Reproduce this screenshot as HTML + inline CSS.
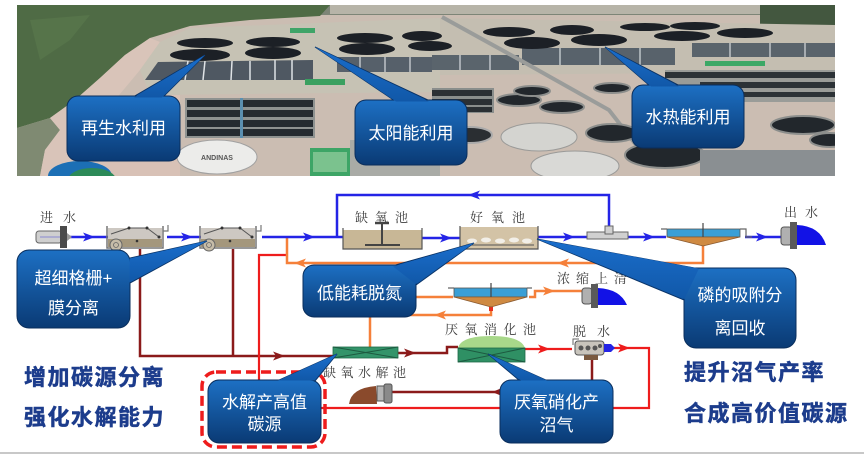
<!DOCTYPE html>
<html><head><meta charset="utf-8">
<style>
html,body{margin:0;padding:0;background:#fff;width:864px;height:455px;overflow:hidden;}
svg{display:block;}
.lbl{font-family:"Noto Serif CJK SC","Liberation Serif",serif;fill:#3c3c3c;font-size:13px;}
.co{font-family:"Liberation Sans","Noto Sans CJK SC",sans-serif;fill:#ffffff;font-size:17px;}
.big{font-family:"Liberation Sans","Noto Sans CJK SC",sans-serif;fill:#1c3c8c;stroke:#1c3c8c;stroke-width:0.5px;font-size:22px;font-weight:700;letter-spacing:1.5px;}
</style></head><body>
<svg width="864" height="455" viewBox="0 0 864 455" xmlns="http://www.w3.org/2000/svg">
<defs>
<linearGradient id="cg" x1="0" y1="0" x2="0" y2="1">
<stop offset="0" stop-color="#1d70c4"/><stop offset="1" stop-color="#0a3a74"/>
</linearGradient>
<linearGradient id="wg" x1="0" y1="0" x2="0" y2="1">
<stop offset="0" stop-color="#1a6ecc"/><stop offset="1" stop-color="#1158a8"/>
</linearGradient>
<clipPath id="pc"><rect x="17" y="5" width="818" height="171"/></clipPath>
</defs>

<!-- ================= PHOTO ================= -->
<g clip-path="url(#pc)">
<rect x="17" y="5" width="818" height="171" fill="#cbbdb2"/>
<rect x="17" y="5" width="818" height="10" fill="#7d8577"/>
<rect x="330" y="5" width="430" height="9" fill="#b7b4a8"/>
<rect x="760" y="5" width="75" height="22" fill="#43573f"/>
<polygon points="17,5 330,5 320,16 250,20 190,26 150,38 125,55 100,78 75,100 50,118 17,128" fill="#4f6b45"/>
<polygon points="30,20 90,15 70,40 40,60" fill="#56744a"/>
<polygon points="17,128 50,118 60,130 45,150 40,176 17,176" fill="#7f8a72"/>
<polygon points="50,118 75,100 100,78 125,55 150,38 160,42 140,70 115,100 95,130 80,176 40,176 45,150 60,130" fill="#d9c4b9"/>
<polygon points="160,42 190,28 440,18 440,92 150,95 140,70" fill="#c6c2b4"/>
<polygon points="440,18 835,25 835,72 440,75" fill="#c4beb1"/>
<polygon points="95,130 115,100 140,95 180,95 180,176 80,176" fill="#d8c1b6"/>
<!-- gridded tanks -->
<polygon points="145,80 158,62 313,60 313,80" fill="#4f5862"/>
<g stroke="#dfe3e6" stroke-width="1.5">
<line x1="188" y1="61" x2="185" y2="80"/><line x1="205" y1="61" x2="203" y2="80"/><line x1="232" y1="61" x2="231" y2="80"/><line x1="250" y1="61" x2="250" y2="80"/><line x1="275" y1="60" x2="275" y2="80"/><line x1="292" y1="60" x2="292" y2="80"/>
</g>
<rect x="337" y="57" width="95" height="15" fill="#56606a"/>
<rect x="432" y="55" width="87" height="15" fill="#5a646c"/>
<rect x="522" y="48" width="153" height="17" fill="#58626b"/>
<rect x="692" y="43" width="143" height="14" fill="#5a646c"/>
<g stroke="#d8dde0" stroke-width="1.2">
<line x1="360" y1="57" x2="360" y2="72"/><line x1="385" y1="57" x2="385" y2="72"/><line x1="410" y1="57" x2="410" y2="72"/>
<line x1="460" y1="55" x2="460" y2="70"/><line x1="490" y1="55" x2="490" y2="70"/>
<line x1="560" y1="48" x2="560" y2="65"/><line x1="600" y1="48" x2="600" y2="65"/><line x1="640" y1="48" x2="640" y2="65"/>
<line x1="730" y1="43" x2="730" y2="57"/><line x1="770" y1="43" x2="770" y2="57"/><line x1="805" y1="43" x2="805" y2="57"/>
</g>
<!-- top ellipses -->
<g fill="#1c2026">
<ellipse cx="205" cy="43" rx="28" ry="5"/>
<ellipse cx="200" cy="55" rx="30" ry="6"/>
<ellipse cx="273" cy="42" rx="27" ry="5"/>
<ellipse cx="273" cy="53" rx="28" ry="6"/>
<ellipse cx="365" cy="38" rx="28" ry="5"/>
<ellipse cx="367" cy="49" rx="28" ry="6"/>
<ellipse cx="422" cy="36" rx="20" ry="5"/>
<ellipse cx="430" cy="46" rx="22" ry="5"/>
<ellipse cx="509" cy="32" rx="26" ry="5"/>
<ellipse cx="532" cy="43" rx="28" ry="6"/>
<ellipse cx="572" cy="30" rx="22" ry="5"/>
<ellipse cx="599" cy="40" rx="28" ry="6"/>
<ellipse cx="645" cy="27" rx="25" ry="4"/>
<ellipse cx="695" cy="26" rx="25" ry="4"/>
<ellipse cx="682" cy="36" rx="28" ry="5"/>
<ellipse cx="745" cy="33" rx="28" ry="5"/>
</g>
<!-- green roofs -->
<rect x="290" y="28" width="25" height="5" fill="#3fa468"/>
<rect x="305" y="79" width="40" height="6" fill="#3aa060"/>
<rect x="705" y="61" width="60" height="5" fill="#3ca866"/>
<!-- road -->
<polyline points="442,17 520,60 609,110 640,150" fill="none" stroke="#9a9c9a" stroke-width="4"/>
<!-- dark tank rows -->
<rect x="185" y="98" width="130" height="40" fill="#8e9290"/>
<rect x="187" y="100" width="126" height="7" fill="#252b30"/>
<rect x="187" y="110" width="126" height="7" fill="#252b30"/>
<rect x="187" y="120" width="126" height="7" fill="#252b30"/>
<rect x="187" y="129" width="126" height="7" fill="#252b30"/>
<rect x="240" y="98" width="3" height="40" fill="#5a8fb0"/>
<rect x="432" y="88" width="62" height="25" fill="#8a8e8c"/>
<rect x="432" y="90" width="60" height="6" fill="#2b3034"/>
<rect x="432" y="99" width="60" height="6" fill="#2b3034"/>
<rect x="432" y="107" width="60" height="5" fill="#2b3034"/>
<rect x="665" y="70" width="170" height="32" fill="#9a9c98"/>
<rect x="665" y="72" width="170" height="6" fill="#2c3236"/>
<rect x="700" y="82" width="135" height="6" fill="#2c3236"/>
<rect x="720" y="92" width="115" height="5" fill="#2c3236"/>
<!-- mid circles -->
<g fill="#22272c" stroke="#8c8e8c" stroke-width="2">
<ellipse cx="519" cy="100" rx="22" ry="6"/>
<ellipse cx="562" cy="107" rx="22" ry="6"/>
<ellipse cx="532" cy="91" rx="18" ry="5"/>
<ellipse cx="612" cy="88" rx="18" ry="5"/>
<ellipse cx="612" cy="133" rx="26" ry="9"/>
<ellipse cx="665" cy="155" rx="40" ry="13"/>
<ellipse cx="803" cy="125" rx="32" ry="9"/>
<ellipse cx="830" cy="140" rx="20" ry="7"/>
</g>
<rect x="350" y="140" width="90" height="36" fill="#a9aba6"/>
<ellipse cx="539" cy="137" rx="38" ry="14" fill="#d4d4d0" stroke="#9a9a98"/>
<ellipse cx="575" cy="166" rx="44" ry="15" fill="#d9d9d6" stroke="#9a9a98"/>
<ellipse cx="470" cy="135" rx="22" ry="8" fill="#2a2e32" stroke="#aaa" stroke-width="2"/>
<rect x="700" y="150" width="135" height="26" fill="#8a8f92"/>
<!-- ANDINAS tank -->
<ellipse cx="80" cy="176" rx="32" ry="15" fill="#1c6fb5"/>
<ellipse cx="92" cy="180" rx="24" ry="12" fill="#2c8a58"/>
<ellipse cx="217" cy="157" rx="40" ry="17" fill="#ececea" stroke="#a0a0a0"/>
<text x="217" y="160" font-family="Liberation Sans,sans-serif" font-size="7" fill="#555" text-anchor="middle" font-weight="bold">ANDINAS</text>
<rect x="310" y="148" width="40" height="28" fill="#3da566"/>
<rect x="313" y="152" width="34" height="20" fill="#7bc28e"/>
</g>

<!-- photo callouts -->
<polygon points="205,55 133,97 163,97" fill="url(#wg)" stroke="#0a3468" stroke-width="1"/>
<rect x="67" y="96" width="113" height="65" rx="11" fill="url(#cg)" stroke="#0a2e5c" stroke-width="1"/>
<polygon points="205,55 134,97.5 162,97.5" fill="url(#wg)"/>
<text class="co" x="123.5" y="134" text-anchor="middle">再生水利用</text>

<polygon points="315,47 395,101 430,101" fill="url(#wg)" stroke="#0a3468" stroke-width="1"/>
<rect x="355" y="100" width="112" height="65" rx="11" fill="url(#cg)" stroke="#0a2e5c" stroke-width="1"/>
<polygon points="315,47 396,101.5 429,101.5" fill="url(#wg)"/>
<text class="co" x="411" y="139" text-anchor="middle">太阳能利用</text>

<polygon points="605,47 650,86 680,86" fill="url(#wg)" stroke="#0a3468" stroke-width="1"/>
<rect x="632" y="85" width="112" height="63" rx="11" fill="url(#cg)" stroke="#0a2e5c" stroke-width="1"/>
<polygon points="605,47 651,86.5 679,86.5" fill="url(#wg)"/>
<text class="co" x="688" y="123" text-anchor="middle">水热能利用</text>

<!-- ================= DIAGRAM ================= -->
<!-- labels -->
<text class="lbl" x="40" y="222" font-size="12" letter-spacing="10">进水</text>
<text class="lbl" x="355" y="222" letter-spacing="7">缺氧池</text>
<text class="lbl" x="470" y="222" letter-spacing="8">好氧池</text>
<text class="lbl" x="784" y="217" letter-spacing="8">出水</text>
<text class="lbl" x="557" y="283" letter-spacing="6">浓缩上清</text>
<text class="lbl" x="445" y="334" letter-spacing="6.5">厌氧消化池</text>
<text class="lbl" x="573" y="336" font-size="12" letter-spacing="11">脱水</text>
<text class="lbl" x="323" y="377" font-size="15" letter-spacing="4.5">缺氧水解池</text>

<!-- maroon lines -->
<g stroke="#8b1a1a" stroke-width="2.5" fill="none">
<polyline points="140,249 140,356 333,356"/>
<line x1="233" y1="249" x2="233" y2="356"/>
<polyline points="398,353 447,353 447,347 458,347"/>
<line x1="592" y1="358" x2="592" y2="381"/>
<line x1="392" y1="392" x2="502" y2="392"/>
</g>
<g fill="#8b1a1a">
<polygon points="273,351.5 285,356 273,360.5 276,356"/>
<polygon points="404,348.5 416,353 404,357.5 407,353"/>
<polygon points="502,388 492,392 502,396"/>
</g>

<!-- red lines -->
<g stroke="#ee1c1c" stroke-width="2.2" fill="none">
<polyline points="286,255 259,255 259,408 649,408 649,348 604,348"/>
<line x1="525" y1="349" x2="572" y2="349"/>
</g>
<g fill="#ee1c1c">
<polygon points="538,344.5 550,349 538,353.5 541,349"/>
<polygon points="618,343.5 630,348 618,352.5 621,348"/>
</g>

<!-- orange lines -->
<g stroke="#f5803a" stroke-width="2.5" fill="none">
<polyline points="287,237 287,263 703,263 703,246"/>
<line x1="405" y1="297" x2="453" y2="297"/>
<polyline points="529,297 535,297 535,291 582,291"/>
<polyline points="491,307 491,315 370,315 370,348"/>
</g>
<g fill="#f5803a">
<polygon points="306,258.5 294,263 306,267.5 303,263"/>
<polygon points="569,258.5 557,263 569,267.5 566,263"/>
<polygon points="446,310.5 434,315 446,319.5 443,315"/>
<polygon points="543,286.5 555,291 543,295.5 546,291"/>
</g>
<rect x="489" y="307" width="4" height="4" fill="#e83020"/>

<!-- blue lines -->
<g stroke="#2424e6" stroke-width="2.5" fill="none">
<line x1="68" y1="237" x2="108" y2="237"/>
<line x1="167" y1="237" x2="201" y2="237"/>
<line x1="262" y1="237" x2="343" y2="237"/>
<polyline points="337,237 337,195 609,195 609,227"/>
<line x1="422" y1="238" x2="460" y2="238"/>
<line x1="538" y1="237" x2="588" y2="237"/>
<line x1="628" y1="237" x2="666" y2="237"/>
<line x1="745" y1="237" x2="781" y2="237"/>
</g>
<g fill="#2424e6">
<polygon points="83,232.5 95,237 83,241.5 86,237"/>
<polygon points="181,232.5 193,237 181,241.5 184,237"/>
<polygon points="303,232.5 315,237 303,241.5 306,237"/>
<polygon points="440,233.5 452,238 440,242.5 443,238"/>
<polygon points="563,232.5 575,237 563,241.5 566,237"/>
<polygon points="643,232.5 655,237 643,241.5 646,237"/>
<polygon points="756,232.5 768,237 756,241.5 759,237"/>
<polygon points="480,190.5 468,195 480,199.5 477,195"/>
</g>

<!-- inflow pipe -->
<rect x="36" y="231" width="26" height="12" rx="3" fill="#cfcfcf" stroke="#666" stroke-width="1"/>
<line x1="40" y1="237" x2="60" y2="237" stroke="#8a8ad0" stroke-width="1"/>
<rect x="60" y="226" width="7" height="22" fill="#4a4a4a"/>
<polygon points="67,233 72,237 67,241" fill="#999"/>

<!-- grid units -->
<g transform="translate(107,225)">
<rect x="1" y="3" width="54" height="19" fill="#cdc8c2"/>
<rect x="1" y="14" width="54" height="8" fill="#a4977c"/>
<path d="M0,1 L0,23 L56,23 L56,1" fill="none" stroke="#777" stroke-width="1.5"/>
<polyline points="4,9 22,3 40,3 52,12" fill="none" stroke="#555" stroke-width="1"/>
<circle cx="9" cy="20" r="6" fill="#c6bca8" stroke="#666" stroke-width="1"/>
<circle cx="9" cy="20" r="2.5" fill="none" stroke="#666" stroke-width="0.8"/>
<path d="M56,6 L61,6 L61,0" fill="none" stroke="#777" stroke-width="1.2"/>
<circle cx="22" cy="3" r="1.5" fill="#333"/><circle cx="40" cy="3" r="1.5" fill="#333"/><circle cx="52" cy="12" r="1.5" fill="#333"/><circle cx="30" cy="16" r="1.3" fill="#333"/>
</g>
<g transform="translate(200,225)">
<rect x="1" y="3" width="54" height="19" fill="#cdc8c2"/>
<rect x="1" y="14" width="54" height="8" fill="#a4977c"/>
<path d="M0,1 L0,23 L56,23 L56,1" fill="none" stroke="#777" stroke-width="1.5"/>
<polyline points="4,9 22,3 40,3 52,12" fill="none" stroke="#555" stroke-width="1"/>
<circle cx="9" cy="20" r="6" fill="#c6bca8" stroke="#666" stroke-width="1"/>
<circle cx="9" cy="20" r="2.5" fill="none" stroke="#666" stroke-width="0.8"/>
<path d="M56,6 L61,6 L61,0" fill="none" stroke="#777" stroke-width="1.2"/>
<circle cx="22" cy="3" r="1.5" fill="#333"/><circle cx="40" cy="3" r="1.5" fill="#333"/><circle cx="52" cy="12" r="1.5" fill="#333"/><circle cx="30" cy="16" r="1.3" fill="#333"/>
</g>

<!-- anoxic tank -->
<rect x="343" y="230" width="79" height="19" fill="#c8b796"/>
<path d="M343,228 L343,249 L422,249 L422,228" fill="none" stroke="#555" stroke-width="1.2"/>
<line x1="382" y1="223" x2="382" y2="245" stroke="#444" stroke-width="2"/>
<line x1="375" y1="223" x2="389" y2="223" stroke="#444" stroke-width="2.5"/>
<line x1="365" y1="245" x2="400" y2="245" stroke="#444" stroke-width="2"/>

<!-- aerobic tank -->
<rect x="460" y="227" width="78" height="22" fill="#d3c3a6"/>
<path d="M460,226 L460,249 L538,249 L538,226" fill="none" stroke="#555" stroke-width="1.2"/>
<g fill="#f2efe8">
<ellipse cx="472" cy="241" rx="5" ry="2.5"/><ellipse cx="486" cy="240" rx="5" ry="2.5"/><ellipse cx="500" cy="241" rx="5" ry="2.5"/><ellipse cx="514" cy="240" rx="5" ry="2.5"/><ellipse cx="527" cy="241" rx="5" ry="2.5"/>
</g>
<line x1="466" y1="245" x2="534" y2="245" stroke="#555" stroke-width="1"/>

<!-- T pipe -->
<rect x="587" y="232" width="41" height="7" fill="#d0d0d0" stroke="#666" stroke-width="1"/>
<rect x="605" y="226" width="8" height="8" fill="#d0d0d0" stroke="#666" stroke-width="1"/>

<!-- clarifier 1 -->
<rect x="667" y="229" width="73" height="8" fill="#3a9fd6" stroke="#555" stroke-width="0.8"/>
<polygon points="667,237 740,237 703,246" fill="#cf8a42" stroke="#8a5a30" stroke-width="0.8"/>
<line x1="703" y1="223" x2="703" y2="237" stroke="#444" stroke-width="1.2"/>
<path d="M661,229 L667,229 M740,229 L746,229 L746,237 L752,237" stroke="#666" fill="none" stroke-width="1.2"/>

<!-- outlet -->
<rect x="781" y="227" width="11" height="18" rx="3" fill="#b0b0b0" stroke="#555" stroke-width="1"/>
<rect x="790" y="222" width="7" height="27" fill="#5a5a5a"/>
<path d="M797,225 Q820,226 826,245 L797,245 Z" fill="#1212e6"/>

<!-- thickener -->
<rect x="454" y="288" width="73" height="9" fill="#3a9fd6" stroke="#555" stroke-width="0.8"/>
<polygon points="454,297 527,297 491,307" fill="#cf8a42" stroke="#8a5a30" stroke-width="0.8"/>
<line x1="491" y1="283" x2="491" y2="297" stroke="#444" stroke-width="1.2"/>
<path d="M448,288 L454,288 M527,288 L532,288" stroke="#666" fill="none" stroke-width="1.2"/>

<!-- supernatant pump -->
<rect x="582" y="288" width="10" height="16" rx="3" fill="#b0b0b0" stroke="#555" stroke-width="1"/>
<rect x="591" y="284" width="7" height="24" fill="#5a5a5a"/>
<path d="M598,288 Q620,289 627,305 L598,305 Z" fill="#1212e6"/>

<!-- hydrolysis tank -->
<rect x="333" y="347" width="65" height="11" fill="#33946a" stroke="#1f6a48" stroke-width="0.8"/>
<path d="M333,347 L398,358 M333,358 L398,347" stroke="#1d5a40" stroke-width="1"/>

<!-- digester -->
<path d="M458,348 Q461,336 491,336 Q521,336 525,348 Z" fill="#a8d88a"/>
<rect x="458" y="348" width="67" height="14" fill="#2f9064" stroke="#1f6a48" stroke-width="0.8"/>
<path d="M458,348 L525,362 M458,362 L525,348" stroke="#1d5a40" stroke-width="1"/>

<!-- dewatering -->
<path d="M573,345 L573,339 L579,339" fill="none" stroke="#666" stroke-width="1"/>
<rect x="575" y="341" width="29" height="14" rx="3" fill="#c8c4bc" stroke="#555" stroke-width="1"/>
<g fill="#555"><circle cx="581" cy="348" r="2.5"/><circle cx="588" cy="348" r="2.5"/><circle cx="595" cy="348" r="2.5"/><circle cx="600" cy="346" r="2"/></g>
<rect x="584" y="355" width="14" height="5" fill="#7a5a40"/>
<polygon points="604,344 611,344 615,348 611,352 604,352" fill="#2424e6"/>

<!-- sludge + pump -->
<path d="M349,404 Q351,388 376,386 L377,404 Z" fill="#8a4a2c"/>
<rect x="377" y="386" width="8" height="15" fill="#b5b5b5" stroke="#555" stroke-width="1"/>
<rect x="384" y="384" width="8" height="19" rx="2" fill="#8a8a8a" stroke="#555" stroke-width="1"/>

<!-- dashed box -->
<rect x="202" y="372" width="123" height="75" rx="14" fill="none" stroke="#ee1c1c" stroke-width="3.5" stroke-dasharray="10,5"/>

<!-- diagram callouts -->
<polygon points="207,241 130,258 130,283" fill="url(#wg)" stroke="#0a3468" stroke-width="1"/>
<rect x="17" y="250" width="113" height="78" rx="12" fill="url(#cg)" stroke="#0a2e5c" stroke-width="1"/>
<polygon points="207,241 129.5,258.5 129.5,282.5" fill="url(#wg)"/>
<text class="co" x="73.5" y="284" text-anchor="middle">超细格栅+</text>
<text class="co" x="73.5" y="314" text-anchor="middle">膜分离</text>

<polygon points="474,243 392,266 416,285" fill="url(#wg)" stroke="#0a3468" stroke-width="1"/>
<rect x="303" y="265" width="113" height="52" rx="11" fill="url(#cg)" stroke="#0a2e5c" stroke-width="1"/>
<polygon points="474,243 393,266.5 415.5,284" fill="url(#wg)"/>
<text class="co" x="359.5" y="299" text-anchor="middle">低能耗脱氮</text>

<polygon points="537,239 700,269 684,300" fill="url(#wg)" stroke="#0a3468" stroke-width="1"/>
<rect x="684" y="268" width="112" height="80" rx="12" fill="url(#cg)" stroke="#0a2e5c" stroke-width="1"/>
<polygon points="537,239 699,268.5 684.5,299" fill="url(#wg)"/>
<text class="co" x="740" y="301" text-anchor="middle">磷的吸附分</text>
<text class="co" x="740" y="334" text-anchor="middle">离回收</text>

<polygon points="337,354 277,381 315,381" fill="url(#wg)" stroke="#0a3468" stroke-width="1"/>
<rect x="208" y="380" width="113" height="63" rx="11" fill="url(#cg)" stroke="#0a2e5c" stroke-width="1"/>
<polygon points="337,354 278,380.5 314,380.5" fill="url(#wg)"/>
<text class="co" x="264.5" y="408" text-anchor="middle">水解产高值</text>
<text class="co" x="264.5" y="430" text-anchor="middle">碳源</text>

<polygon points="488,354 520,381 548,381" fill="url(#wg)" stroke="#0a3468" stroke-width="1"/>
<rect x="500" y="380" width="113" height="63" rx="11" fill="url(#cg)" stroke="#0a2e5c" stroke-width="1"/>
<polygon points="488,354 521,380.5 547,380.5" fill="url(#wg)"/>
<text class="co" x="556.5" y="408" text-anchor="middle">厌氧硝化产</text>
<text class="co" x="556.5" y="431" text-anchor="middle">沼气</text>

<!-- big texts -->
<text class="big" x="24" y="385">增加碳源分离</text>
<text class="big" x="24" y="425">强化水解能力</text>
<text class="big" x="684" y="380">提升沼气产率</text>
<text class="big" x="684" y="421">合成高价值碳源</text>

<!-- bottom line -->
<rect x="0" y="452" width="864" height="2" fill="#c8c8c8"/>
</svg>
</body></html>
